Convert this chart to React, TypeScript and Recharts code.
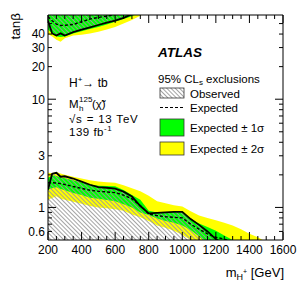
import React from 'react';
import { ComposedChart, Area, Line, XAxis, YAxis } from 'recharts';

const FONT = '"Liberation Sans", Arial, Helvetica, sans-serif';

// charged Higgs mass grid (GeV)
const masses = [200, 225, 250, 275, 300, 350, 400, 450, 500, 550, 600, 650, 700, 750, 800, 850, 900, 950, 1000, 1050, 1100, 1150, 1200, 1250, 1300, 1350, 1400, 1450, 1500];

// low tan(beta) exclusion, values per mass (missing = no longer on the plot)
const obsLow = [1.46, 2.05, 2.09, 1.92, 1.94, 1.85, 1.73, 1.62, 1.54, 1.52, 1.49, 1.4, 1.26, 1.03, 0.88, 0.89, 0.9, 0.91, 0.91, 0.78, 0.69, 0.6, 0.51, 0.45];
const expLow = [1.69, 1.69, 1.68, 1.66, 1.63, 1.56, 1.5, 1.44, 1.41, 1.39, 1.37, 1.3, 1.2, 1.04, 0.87, 0.84, 0.82, 0.81, 0.8, 0.7, 0.63, 0.57, 0.53, 0.51, 0.48];
const oneSigmaHiLow = [1.88, 1.97, 1.95, 1.9, 1.86, 1.78, 1.7, 1.63, 1.59, 1.58, 1.57, 1.45, 1.3, 1.18, 0.93, 0.9, 0.9, 0.91, 0.9, 0.78, 0.71, 0.66, 0.61, 0.55, 0.5, 0.46];
const oneSigmaLoLow = [1.46, 1.5, 1.54, 1.48, 1.44, 1.36, 1.3, 1.23, 1.2, 1.17, 1.14, 1.07, 1.0, 0.9, 0.85, 0.79, 0.75, 0.72, 0.68, 0.62, 0.54, 0.46];
const twoSigmaHiLow = [2.09, 2.07, 2.12, 2.06, 2.0, 1.92, 1.85, 1.78, 1.74, 1.71, 1.69, 1.6, 1.5, 1.41, 1.28, 1.14, 1.09, 1.05, 1.02, 0.92, 0.84, 0.8, 0.76, 0.72, 0.68, 0.63, 0.57, 0.53, 0.48];
const twoSigmaLoLow = [1.18, 1.22, 1.27, 1.2, 1.18, 1.13, 1.08, 1.03, 1.0, 0.98, 0.96, 0.93, 0.86, 0.81, 0.75, 0.68, 0.65, 0.61, 0.56, 0.5, 0.46];

// high tan(beta) exclusion (excluded above these values)
const obsHigh = [53, 40.5, 38.8, 40.6, 38.8, 41.6, 44, 46.2, 48.5, 51, 53.3, 56.5, 61];
const expHigh = [58, 53, 49.5, 48, 48.3, 49, 52, 55, 57, 58.5, 60.5];
const oneSigmaLoHigh = [44, 40.5, 38, 37.5, 38, 40.5, 42.5, 44.5, 46.5, 49, 52, 55, 58.5, 63];
const twoSigmaLoHigh = [40, 38, 35.5, 34, 36.5, 38.8, 39.5, 40.5, 42, 44, 46.5, 50, 54, 59, 65];

const FLOOR = 0.4;
const CEIL = 70;

const xMajor = [200, 400, 600, 800, 1000, 1200, 1400, 1600];
const xTicks: number[] = [];
for (let m = 200; m <= 1600; m += 50) xTicks.push(m);
const yTicks = [0.6, 0.7, 0.8, 0.9, 1, 2, 3, 4, 5, 6, 7, 8, 9, 10, 20, 30, 40, 50];
const yLabels = [0.6, 1, 2, 3, 10, 20, 30, 40];
const yDecades = [1, 10];

const at = (a: number[], i: number) => (a[i] === undefined ? null : a[i]);

const rows = masses.map((m, i) => {
  const y2hi = at(twoSigmaHiLow, i);
  const g1hi = at(oneSigmaHiLow, i);
  const obs = at(obsLow, i);
  const y2t = at(twoSigmaLoHigh, i);
  const g1t = at(oneSigmaLoHigh, i);
  const obsT = at(obsHigh, i);
  return {
    m,
    yellowLow: y2hi == null ? null : [at(twoSigmaLoLow, i) ?? FLOOR, y2hi],
    greenLow: g1hi == null ? null : [at(oneSigmaLoLow, i) ?? FLOOR, g1hi],
    hatchLow: obs == null ? null : [FLOOR, obs],
    yellowHigh: y2t == null ? null : [y2t, CEIL],
    greenHigh: g1t == null ? null : [g1t, CEIL],
    hatchHigh: obsT == null ? null : [obsT, CEIL],
    obsLow: obs,
    expLow: at(expLow, i),
    obsHigh: obsT,
    expHigh: at(expHigh, i),
  };
});

const BottomTick = ({ x, y, payload }: any) => {
  const major = xMajor.includes(payload.value);
  return (
    <g>
      <line x1={x} y1={y} x2={x} y2={y - (major ? 8 : 4)} stroke="#000" />
      {major && (
        <text x={x} y={y + 13.5} textAnchor="middle" fontSize={12} fontFamily={FONT} fill="#000">
          {payload.value}
        </text>
      )}
    </g>
  );
};

const TopTick = ({ x, y, payload }: any) => {
  const major = xMajor.includes(payload.value);
  return <line x1={x} y1={y} x2={x} y2={y + (major ? 8 : 4)} stroke="#000" />;
};

const LeftTick = ({ x, y, payload }: any) => {
  const v = payload.value;
  return (
    <g>
      <line x1={x} y1={y} x2={x + (yDecades.includes(v) ? 8 : 4)} y2={y} stroke="#000" />
      {yLabels.includes(v) && (
        <text x={x - 3} y={y + 4.3} textAnchor="end" fontSize={12} fontFamily={FONT} fill="#000">
          {v}
        </text>
      )}
    </g>
  );
};

const RightTick = ({ x, y, payload }: any) => (
  <line x1={x} y1={y} x2={x - (yDecades.includes(payload.value) ? 8 : 4)} y2={y} stroke="#000" />
);

const YELLOW = '#ffff00';
const GREEN = '#00ff00';

export default function App() {
  return (
    <div style={{ position: 'absolute', left: 0, top: 0, width: 299, height: 287, background: '#fff' }}>
      <ComposedChart width={299} height={287} data={rows} margin={{ top: 14, right: 15, bottom: 0, left: 0 }}>
        <Area dataKey="yellowLow" type="linear" fill={YELLOW} fillOpacity={1} stroke="none" isAnimationActive={false} />
        <Area dataKey="yellowHigh" type="linear" fill={YELLOW} fillOpacity={1} stroke="none" isAnimationActive={false} />
        <Area dataKey="greenLow" type="linear" fill={GREEN} fillOpacity={1} stroke="none" isAnimationActive={false} />
        <Area dataKey="greenHigh" type="linear" fill={GREEN} fillOpacity={1} stroke="none" isAnimationActive={false} />
        <Area dataKey="hatchLow" type="linear" fill="url(#obsHatch)" fillOpacity={1} stroke="none" isAnimationActive={false} />
        <Area dataKey="hatchHigh" type="linear" fill="url(#obsHatch)" fillOpacity={1} stroke="none" isAnimationActive={false} />
        <Line dataKey="expLow" type="linear" stroke="#000" strokeWidth={1.4} strokeDasharray="3 2" dot={false} isAnimationActive={false} />
        <Line dataKey="expHigh" type="linear" stroke="#000" strokeWidth={1.4} strokeDasharray="3 2" dot={false} isAnimationActive={false} />
        <Line dataKey="obsLow" type="linear" stroke="#000" strokeWidth={1.8} dot={false} isAnimationActive={false} />
        <Line dataKey="obsHigh" type="linear" stroke="#000" strokeWidth={1.8} dot={false} isAnimationActive={false} />
        <XAxis
          dataKey="m"
          type="number"
          domain={[200, 1600]}
          ticks={xTicks}
          interval={0}
          allowDataOverflow
          height={47}
          tickSize={0}
          tickMargin={0}
          tickLine={false}
          axisLine={{ stroke: '#000' }}
          tick={<BottomTick />}
        />
        <XAxis
          xAxisId="top"
          orientation="top"
          dataKey="m"
          type="number"
          domain={[200, 1600]}
          ticks={xTicks}
          interval={0}
          allowDataOverflow
          height={1}
          tickSize={0}
          tickMargin={0}
          tickLine={false}
          axisLine={{ stroke: '#000' }}
          tick={<TopTick />}
        />
        <YAxis
          type="number"
          scale="log"
          domain={[0.5, 60]}
          ticks={yTicks}
          interval={0}
          allowDataOverflow
          width={48}
          tickSize={0}
          tickMargin={0}
          tickLine={false}
          axisLine={{ stroke: '#000' }}
          tick={<LeftTick />}
        />
        <YAxis
          yAxisId="right"
          orientation="right"
          type="number"
          scale="log"
          domain={[0.5, 60]}
          ticks={yTicks}
          interval={0}
          allowDataOverflow
          width={1}
          tickSize={0}
          tickMargin={0}
          tickLine={false}
          axisLine={{ stroke: '#000' }}
          tick={<RightTick />}
        />
      </ComposedChart>

      <svg
        width={299}
        height={287}
        style={{ position: 'absolute', left: 0, top: 0, pointerEvents: 'none' }}
        fontFamily={FONT}
        fill="#000"
      >
        <defs>
          <pattern id="obsHatch" width="3" height="3" patternUnits="userSpaceOnUse" patternTransform="rotate(-45)">
            <line x1="1.5" y1="0" x2="1.5" y2="3" stroke="#9a9a9a" strokeWidth="0.9" />
          </pattern>
        </defs>

        <text transform="translate(20,13) rotate(-90)" textAnchor="end" fontSize={13.5}>
          tanβ
        </text>
        <text x={284} y={277} textAnchor="end" fontSize={13}>
          m<tspan fontSize={9} dy={3}>H</tspan>
          <tspan fontSize={7} dy={-6}>+</tspan>
          <tspan fontSize={13} dy={3}> [GeV]</tspan>
        </text>

        <text x={69} y={87} fontSize={12}>
          H<tspan fontSize={8} dy={-5}>+</tspan>
          <tspan fontSize={12} dy={5}>→ tb</tspan>
        </text>
        <text x={69} y={108} fontSize={11.5}>M</text>
        <text x={79} y={110.5} fontSize={8}>h</text>
        <text x={79} y={102} fontSize={8}>125</text>
        <text x={92} y={108} fontSize={11.5}>(χ̃)</text>
        <text x={69} y={123} fontSize={11.5} letterSpacing={0.8}>√s = 13 TeV</text>
        <text x={69} y={136} fontSize={11.5} letterSpacing={0.5}>
          139 fb<tspan fontSize={8} dy={-5}>-1</tspan>
        </text>

        <text x={158} y={57} fontSize={13.5} fontWeight="bold" fontStyle="italic">
          ATLAS
        </text>
        <text x={158} y={83} fontSize={11.5}>
          95% CL<tspan fontSize={8} dy={2}>s</tspan>
          <tspan fontSize={11.5} dy={-2}> exclusions</tspan>
        </text>

        <rect x={160} y={88} width={24} height={10} fill="#fff" />
        <rect x={160} y={88} width={24} height={10} fill="url(#obsHatch)" stroke="#333" strokeWidth={0.8} />
        <text x={190} y={98} fontSize={11.5}>Observed</text>
        <line x1={160} x2={184} y1={107.5} y2={107.5} stroke="#000" strokeWidth={1.2} strokeDasharray="3 2" />
        <text x={190} y={111.5} fontSize={11.5}>Expected</text>
        <rect x={160} y={119} width={24} height={17} fill={GREEN} stroke="#333" strokeWidth={0.8} />
        <text x={190} y={132} fontSize={11.5}>Expected ± 1σ</text>
        <rect x={160} y={142} width={24} height={13} fill={YELLOW} stroke="#333" strokeWidth={0.8} />
        <text x={190} y={153} fontSize={11.5}>Expected ± 2σ</text>
      </svg>
    </div>
  );
}
